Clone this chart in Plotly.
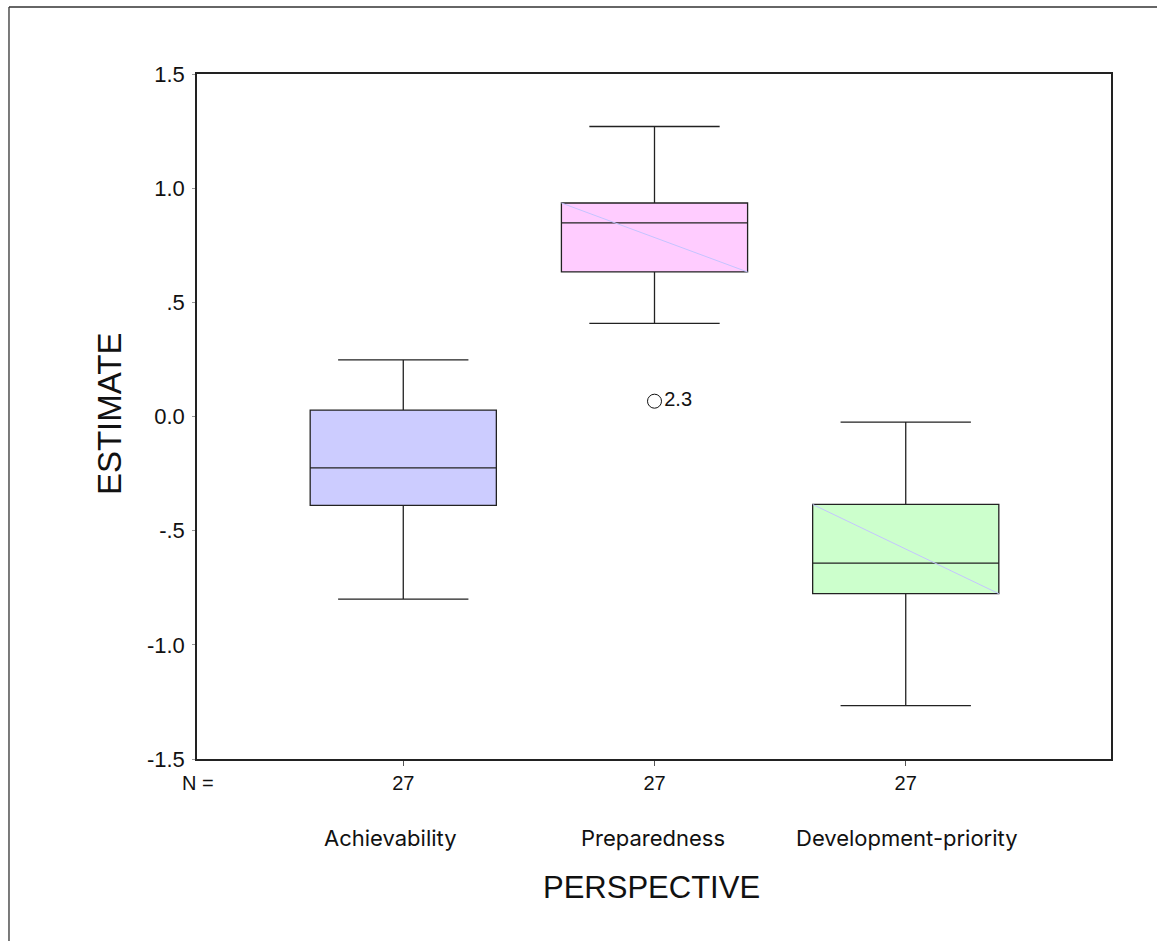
import plotly.graph_objects as go

# Box-plot summary of ESTIMATE by PERSPECTIVE
categories = ["Achievability", "Preparedness", "Development-priority"]
positions = [1, 2, 3]
n_counts = [27, 27, 27]
q1 = [-0.389, 0.633, -0.776]
median = [-0.225, 0.848, -0.642]
q3 = [0.028, 0.935, -0.385]
lower_whisker = [-0.80, 0.408, -1.266]
upper_whisker = [0.248, 1.27, -0.025]
fills = ["#ccccff", "#ffccff", "#ccffcc"]

# outlying case
outlier_pos = [2]
outlier_val = [0.067]
outlier_label = ["2.3"]

y_ticks = [-1.5, -1.0, -0.5, 0.0, 0.5, 1.0, 1.5]
y_ticktext = ["-1.5", "-1.0", "-.5", "0.0", ".5", "1.0", "1.5"]

BOX_W = 0.741
EDGE = "#222222"
SANS = "Liberation Sans, Arial"

fig = go.Figure()

for i in range(len(categories)):
    fig.add_trace(go.Box(
        x=[positions[i]],
        q1=[q1[i]], median=[median[i]], q3=[q3[i]],
        lowerfence=[lower_whisker[i]], upperfence=[upper_whisker[i]],
        width=BOX_W, whiskerwidth=0.70,
        fillcolor=fills[i],
        line=dict(color=EDGE, width=1.3),
        boxpoints=False, hoverinfo="skip", showlegend=False,
    ))

# faint diagonal across the 2nd and 3rd boxes
for i in (1, 2):
    fig.add_trace(go.Scatter(
        x=[positions[i] - BOX_W / 2, positions[i] + BOX_W / 2],
        y=[q3[i], q1[i]],
        mode="lines", line=dict(color="#c4c4ff", width=1),
        hoverinfo="skip", showlegend=False,
    ))

fig.add_trace(go.Scatter(
    x=outlier_pos, y=outlier_val, mode="markers+text",
    marker=dict(symbol="circle-open", size=14, color="#111", line=dict(width=1)),
    text=outlier_label, textposition="middle right",
    textfont=dict(family=SANS, size=20, color="#111"),
    hoverinfo="skip", showlegend=False,
))

fig.update_xaxes(
    range=[0.179, 3.817], tickvals=positions, ticktext=[str(n) for n in n_counts],
    ticks="outside", ticklen=5, tickcolor="#555", tickwidth=1,
    showline=True, linecolor=EDGE, linewidth=1.5, mirror=True,
    showgrid=False, zeroline=False,
    tickfont=dict(family=SANS, size=20, color="#111"),
)
fig.update_yaxes(
    range=[-1.5, 1.5], tickvals=y_ticks, ticktext=y_ticktext,
    ticks="outside", ticklen=3, tickcolor="#999", tickwidth=1,
    ticklabelstandoff=3,
    showline=True, linecolor=EDGE, linewidth=1.5, mirror=True,
    showgrid=False, zeroline=False,
    tickfont=dict(family=SANS, size=22, color="#111"),
)

annotations = [
    dict(text="N =", x=0.001, y=-0.035, xref="paper", yref="paper",
         xanchor="center", yanchor="middle", showarrow=False,
         font=dict(family=SANS, size=20, color="#111")),
    dict(text="ESTIMATE", x=-0.0963, y=0.505, xref="paper", yref="paper",
         xanchor="center", yanchor="middle", textangle=-90, showarrow=False,
         font=dict(family=SANS, size=33, color="#111")),
    dict(text="PERSPECTIVE", x=0.497, y=-0.187, xref="paper", yref="paper",
         xanchor="center", yanchor="middle", showarrow=False,
         font=dict(family=SANS, size=31, color="#111")),
]
label_shift = [-13, -2, 1]
for i, name in enumerate(categories):
    annotations.append(dict(
        text=name, x=positions[i], y=-0.1153, xref="x", yref="paper",
        xanchor="center", yanchor="middle", xshift=label_shift[i], showarrow=False,
        font=dict(family="Inter, Liberation Sans", size=22, color="#111"),
    ))

fig.update_layout(
    width=1157, height=941,
    margin=dict(l=197, r=46, t=74, b=182),
    paper_bgcolor="white", plot_bgcolor="white",
    annotations=annotations,
    shapes=[
        dict(type="line", xref="paper", yref="paper", x0=-0.2057, x1=1.06, y0=1.0978, y1=1.0978,
             line=dict(color="#333", width=1.3)),
        dict(type="line", xref="paper", yref="paper", x0=-0.2057, x1=-0.2057, y0=1.0978, y1=-0.28,
             line=dict(color="#333", width=1.3)),
    ],
)

fig.write_html("out.html")
